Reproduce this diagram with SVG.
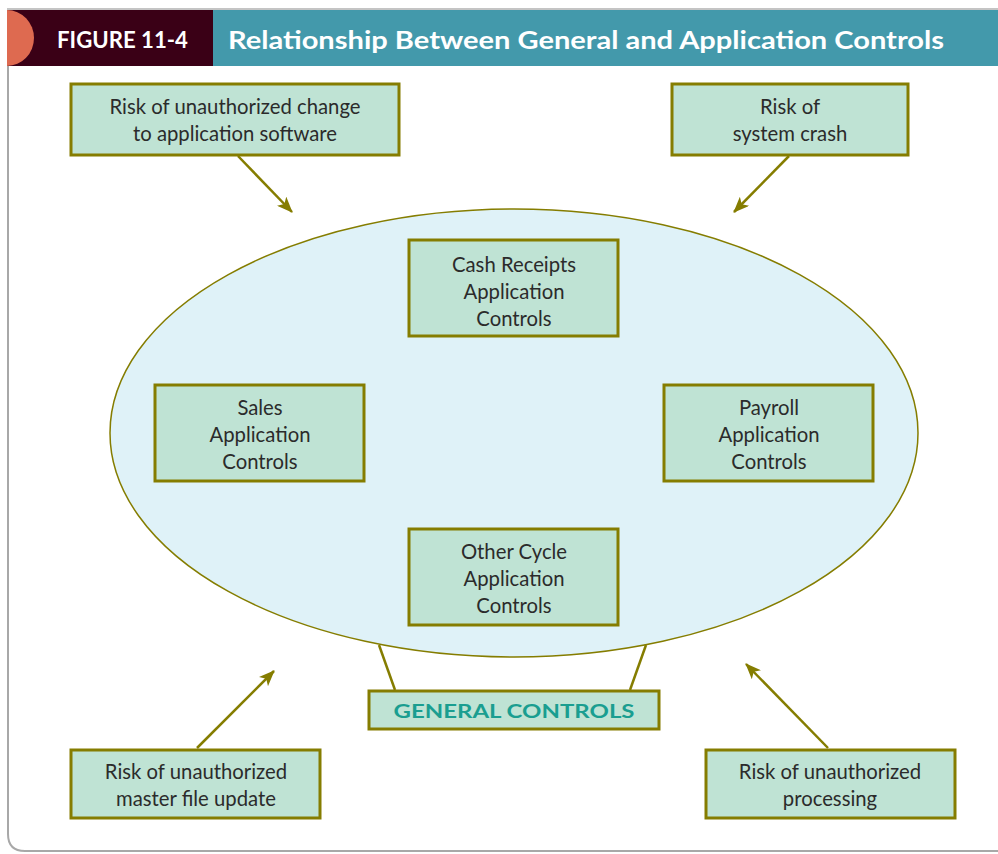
<svg xmlns="http://www.w3.org/2000/svg" width="998" height="854" viewBox="0 0 998 854">
<style>
.box{fill:#bfe3d4;stroke:#857d00;stroke-width:3}
.t{font-family:Lato,"Open Sans",sans-serif;font-size:20.3px;fill:#2b2b2b;text-anchor:middle;dominant-baseline:central}
.conn{stroke:#857d00;stroke-width:2.5;fill:none}
.arr{stroke:#857d00;stroke-width:2.5;fill:none;marker-end:url(#ah)}
</style>
<defs>
<marker id="ah" viewBox="0 0 16 13" refX="15" refY="6.5" markerWidth="16" markerHeight="13" markerUnits="userSpaceOnUse" orient="auto">
<path d="M0,0 L16,6.5 L0,13 L4,6.5 z" fill="#857d00"/>
</marker>
</defs>
<rect x="0" y="0" width="998" height="854" fill="#ffffff"/>
<g id="frame">
<path d="M8,66 L8,834 Q8,851 25,851 L998,851" fill="none" stroke="#a8a8a8" stroke-width="2"/>
<line x1="7" y1="9" x2="998" y2="9" stroke="#b0b0b0" stroke-width="1.5"/>
</g>
<g id="header">
<rect x="7" y="10" width="207" height="56" fill="#3a0016"/>
<rect x="213" y="10" width="785" height="56" fill="#4399ab"/>
<path d="M7,10 A27,28 0 0 1 7,66 Z" fill="#de6a50"/>
<text x="57" y="39" font-family="Lato,'Open Sans',sans-serif" font-weight="bold" font-size="22" fill="#ffffff" dominant-baseline="central" textLength="131" lengthAdjust="spacingAndGlyphs">FIGURE 11-4</text>
<text x="228" y="39" font-family="Lato,'Open Sans',sans-serif" font-weight="bold" font-size="24" fill="#ffffff" dominant-baseline="central" textLength="716" lengthAdjust="spacingAndGlyphs">Relationship Between General and Application Controls</text>
</g>
<g id="general-controls-ellipse">
<ellipse cx="514" cy="433" rx="404" ry="224" fill="#dff2f8" stroke="#857d00" stroke-width="1.5"/>
</g>
<g id="connectors">
<line class="arr" x1="238" y1="156" x2="292" y2="212"/>
<line class="arr" x1="789" y1="156" x2="734" y2="212"/>
<line class="arr" x1="197" y1="748" x2="274" y2="671"/>
<line class="arr" x1="828" y1="748" x2="746" y2="664"/>
<line class="conn" x1="379" y1="645" x2="395" y2="690"/>
<line class="conn" x1="646" y1="645" x2="630" y2="690"/>
</g>
<g id="risk-change">
<rect class="box" x="71" y="84" width="328" height="71"/>
<text class="t" x="235" y="106">Risk of unauthorized change</text>
<text class="t" x="235" y="133">to application software</text>
</g>
<g id="risk-crash">
<rect class="box" x="672" y="84" width="236" height="71"/>
<text class="t" x="790" y="106">Risk of</text>
<text class="t" x="790" y="133">system crash</text>
</g>
<g id="cash-receipts">
<rect class="box" x="409" y="240" width="209" height="96"/>
<text class="t" x="514" y="264">Cash Receipts</text>
<text class="t" x="514" y="291">Application</text>
<text class="t" x="514" y="318">Controls</text>
</g>
<g id="sales">
<rect class="box" x="155" y="385" width="209" height="96"/>
<text class="t" x="260" y="407">Sales</text>
<text class="t" x="260" y="434">Application</text>
<text class="t" x="260" y="461">Controls</text>
</g>
<g id="payroll">
<rect class="box" x="664" y="385" width="209" height="96"/>
<text class="t" x="769" y="407">Payroll</text>
<text class="t" x="769" y="434">Application</text>
<text class="t" x="769" y="461">Controls</text>
</g>
<g id="other-cycle">
<rect class="box" x="409" y="529" width="209" height="96"/>
<text class="t" x="514" y="551">Other Cycle</text>
<text class="t" x="514" y="578">Application</text>
<text class="t" x="514" y="605">Controls</text>
</g>
<g id="general-controls">
<rect class="box" x="369" y="691" width="290" height="38"/>
<text x="514" y="710" font-family="Lato,'Open Sans',sans-serif" font-weight="bold" font-size="19" fill="#1a9e90" text-anchor="middle" dominant-baseline="central" textLength="241" lengthAdjust="spacingAndGlyphs">GENERAL CONTROLS</text>
</g>
<g id="risk-master">
<rect class="box" x="71" y="750" width="249" height="68"/>
<text class="t" x="196" y="771">Risk of unauthorized</text>
<text class="t" x="196" y="798">master file update</text>
</g>
<g id="risk-processing">
<rect class="box" x="706" y="750" width="249" height="68"/>
<text class="t" x="830" y="771">Risk of unauthorized</text>
<text class="t" x="830" y="798">processing</text>
</g>
</svg>
